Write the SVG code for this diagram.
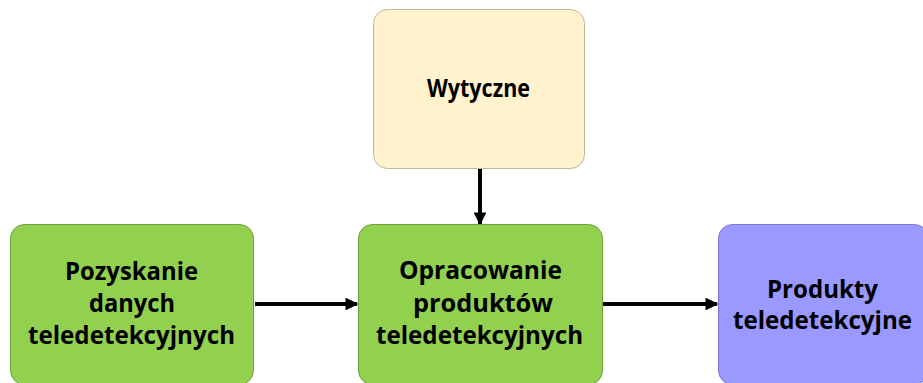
<svg xmlns="http://www.w3.org/2000/svg" width="923" height="383" viewBox="0 0 923 383">
<defs>
<style>
.t{font-family:"Open Sans","Liberation Sans",sans-serif;font-weight:bold;font-size:25px;fill:#000;text-anchor:middle}
.g{fill:#92D050;stroke:#6E9E3A;stroke-width:1}
.c{stroke:#000;stroke-width:4;fill:none;marker-end:url(#ah)}
</style>
<marker id="ah" viewBox="0 0 10 10" refX="9" refY="5" markerWidth="3.2" markerHeight="3.2" orient="auto" markerUnits="strokeWidth">
<path d="M0,0 L10,5 L0,10 z" fill="#000"/>
</marker>
</defs>
<rect width="923" height="383" fill="#fff"/>
<g id="connectors">
<line class="c" x1="255" y1="304" x2="357" y2="304"/>
<line class="c" x1="480" y1="169" x2="480" y2="224"/>
<line class="c" x1="603" y1="304" x2="717" y2="304"/>
</g>
<g id="wytyczne">
<rect x="373.5" y="9.5" width="211" height="159" rx="14" fill="#FFF2CC" stroke="#BDB7A0"/>
<text class="t" x="478.5" y="97" textLength="103" lengthAdjust="spacingAndGlyphs">Wytyczne</text>
</g>
<g id="pozyskanie">
<rect class="g" x="10.5" y="224.5" width="243" height="160" rx="14"/>
<text class="t" x="131.5" y="280" textLength="133" lengthAdjust="spacingAndGlyphs">Pozyskanie</text>
<text class="t" x="132" y="312" textLength="86" lengthAdjust="spacingAndGlyphs">danych</text>
<text class="t" x="131.5" y="344" textLength="207" lengthAdjust="spacingAndGlyphs">teledetekcyjnych</text>
</g>
<g id="opracowanie">
<rect class="g" x="358.5" y="224.5" width="244" height="160" rx="14"/>
<text class="t" x="480.5" y="279" textLength="163" lengthAdjust="spacingAndGlyphs">Opracowanie</text>
<text class="t" x="483" y="312" textLength="140" lengthAdjust="spacingAndGlyphs">produktów</text>
<text class="t" x="479.5" y="344" textLength="207" lengthAdjust="spacingAndGlyphs">teledetekcyjnych</text>
</g>
<g id="produkty">
<rect x="718.5" y="224.5" width="210" height="160" rx="14" fill="#9999FF" stroke="#7A7ACC"/>
<text class="t" x="822.5" y="298" textLength="111" lengthAdjust="spacingAndGlyphs">Produkty</text>
<text class="t" x="822.5" y="329" textLength="179" lengthAdjust="spacingAndGlyphs">teledetekcyjne</text>
</g>
</svg>
